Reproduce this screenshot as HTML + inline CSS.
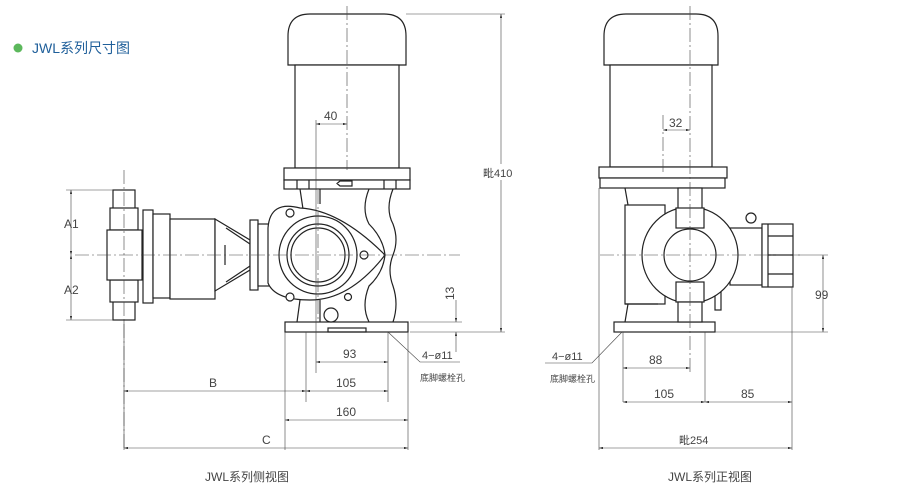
<!DOCTYPE html>
<html><head><meta charset="utf-8"><style>
body{margin:0;background:#fff;width:905px;height:495px;overflow:hidden}
svg{display:block}
text{font-family:"Liberation Sans","Noto Sans CJK SC",sans-serif;fill:#444}
.o{fill:none;stroke:#222;stroke-width:1.2}
.w{fill:#fff;stroke:#222;stroke-width:1.2}
.d{fill:none;stroke:#444;stroke-width:0.6}
.c{fill:none;stroke:#444;stroke-width:0.6;stroke-dasharray:14 3 2 3}
</style></head><body>
<svg width="905" height="495" viewBox="0 0 905 495" xmlns="http://www.w3.org/2000/svg">
<defs><marker id="a" viewBox="0 0 10 6" refX="10" refY="3" markerWidth="8" markerHeight="4" orient="auto-start-reverse"><path d="M0,0L10,3L0,6z" fill="#333"/></marker></defs>
<circle cx="18" cy="48" r="4.5" fill="#5cb85c"/>
<text x="32" y="53" font-size="14" style="fill:#1f5f9a">JWL系列尺寸图</text>

<!-- LEFT VIEW -->
<path class="w" d="M288,65 V36 Q288,14 310,14 H384 Q406,14 406,36 V65 Z"/>
<rect class="w" x="295" y="65" width="104" height="103"/>
<rect class="w" x="284" y="168" width="126" height="12"/>
<rect class="w" x="284" y="180" width="126" height="9"/>
<path class="o" d="M297,180v9M309,180v9M384,180v9M396,180v9M340,186h12v-5h-12l-3,2.5z"/>
<path class="o" d="M369,189 q-8,20 0,35 q14,14 16,31 q-2,18 -16,31 q-8,20 0,36 M393,189 q-8,20 0,35 q6,16 0,31 q-6,15 0,31 q6,18 0,36"/>
<path class="o" d="M300,189 l3,20 M320,189v15 M300,300l-3,22M320,300v22"/>
<rect class="w" x="285" y="322" width="123" height="10"/>
<rect class="o" x="328" y="328" width="38" height="4"/>
<!-- left valve -->
<rect class="w" x="113" y="190" width="22" height="130"/>
<rect class="w" x="110" y="208" width="28" height="22"/>
<rect class="w" x="110" y="280" width="28" height="22"/>
<rect class="w" x="107" y="230" width="35" height="50"/>
<rect class="w" x="143" y="210" width="10" height="93"/>
<rect class="w" x="153" y="214" width="17" height="84"/>
<rect class="w" x="170" y="219" width="45" height="80"/>
<path class="w" d="M215,219 L250,240 V270 L215,291 Z"/>
<path class="o" d="M226,228 L250,244 M226,282 L250,266 M225,245 V265"/>
<rect class="w" x="250" y="220" width="8" height="70"/>
<rect class="w" x="258" y="224" width="12" height="62"/>
<!-- pump head -->
<path class="w" d="M268,228 Q270,200 300,208 Q340,210 385,255 Q350,300 310,300 Q275,300 268,283 Z"/>
<circle class="w" cx="318" cy="255" r="39"/>
<circle class="w" cx="318" cy="255" r="31"/>
<circle class="w" cx="318" cy="255" r="27"/>
<circle class="w" cx="290" cy="213" r="4"/><circle class="w" cx="364" cy="255" r="4"/><circle class="w" cx="290" cy="297" r="4"/><circle class="w" cx="348" cy="297" r="3.5"/>
<circle class="w" cx="331" cy="315" r="7"/>
<!-- centerlines -->
<path class="c" d="M75,255H460 M124,170V450 M318,190V320 M347,6V170"/>
<!-- dims left -->
<path class="d" d="M66,190H113 M66,320H113 M124,320V450"/>
<path class="d" d="M71,190V255" marker-start="url(#a)" marker-end="url(#a)"/>
<path class="d" d="M71,255V320" marker-start="url(#a)" marker-end="url(#a)"/>
<text x="64" y="228" font-size="12">A1</text><text x="64" y="294" font-size="12">A2</text>
<path class="d" d="M316,120V373 M306,332V402 M388,332V402 M285,332V450 M408,332V450 M406,14H505 M410,332H505 M410,322H462"/>
<path class="d" d="M316,124H347" marker-start="url(#a)" marker-end="url(#a)"/>
<text x="324" y="120" font-size="12">40</text>
<path class="d" d="M501,14V332" marker-start="url(#a)" marker-end="url(#a)"/>
<rect x="480" y="164" width="38" height="16" fill="#fff"/>
<text x="483" y="177" font-size="11">毗410</text>
<path class="d" d="M456,300V322" marker-end="url(#a)"/><path class="d" d="M456,352V332" marker-end="url(#a)"/>
<text transform="translate(454,300) rotate(-90)" font-size="12">13</text>
<path class="d" d="M316,362H388" marker-start="url(#a)" marker-end="url(#a)"/><text x="343" y="358" font-size="12">93</text>
<path class="d" d="M124,391H306" marker-start="url(#a)" marker-end="url(#a)"/><text x="209" y="387" font-size="12">B</text>
<path class="d" d="M306,391H388" marker-start="url(#a)" marker-end="url(#a)"/><text x="336" y="387" font-size="12">105</text>
<path class="d" d="M285,420H408" marker-start="url(#a)" marker-end="url(#a)"/><text x="336" y="416" font-size="12">160</text>
<path class="d" d="M124,448H408" marker-start="url(#a)" marker-end="url(#a)"/><text x="262" y="444" font-size="12">C</text>
<path class="d" d="M388,332L420,362H460"/>
<text x="422" y="359" font-size="11">4−ø11</text>
<text x="420" y="381" font-size="9">底脚螺栓孔</text>
<text x="205" y="481" font-size="12">JWL系列侧视图</text>

<!-- RIGHT VIEW -->
<path class="w" d="M604,65 V36 Q604,14 626,14 H696 Q718,14 718,36 V65 Z"/>
<rect class="w" x="610" y="65" width="102" height="102"/>
<rect class="w" x="599" y="167" width="128" height="11"/>
<rect class="w" x="600" y="178" width="125" height="10"/>
<path class="o" d="M625,188 l3,17 M625,322 l3,-18"/>
<rect class="w" x="625" y="205" width="40" height="99"/>
<path class="o" d="M625,304h33"/>
<rect class="w" x="614" y="322" width="101" height="10"/>
<rect class="w" x="730" y="228" width="32" height="57"/>
<circle class="w" cx="751" cy="218" r="5"/>
<rect class="w" x="762" y="224" width="31" height="63"/>
<path class="o" d="M768,224v63M768,236h25M768,255h25M768,274h25"/>
<rect class="w" x="715" y="290" width="6" height="20"/>
<circle class="w" cx="690" cy="255" r="48"/>
<circle class="w" cx="690" cy="255" r="26"/>
<rect class="w" x="678" y="188" width="24" height="22"/>
<rect class="w" x="676" y="208" width="28" height="20"/>
<rect class="w" x="676" y="282" width="28" height="20"/>
<rect class="w" x="678" y="302" width="24" height="20"/>
<path class="c" d="M600,255H800 M690,6V372 M663,115V172"/>
<path class="d" d="M599,188V450 M623,332V402 M705,332V402 M792,287V450 M715,332H828 M795,255H828"/>
<path class="d" d="M663,130H690" marker-start="url(#a)" marker-end="url(#a)"/><text x="669" y="127" font-size="12">32</text>
<path class="d" d="M823,255V332" marker-start="url(#a)" marker-end="url(#a)"/><text x="815" y="299" font-size="12">99</text>
<path class="d" d="M623,368H690" marker-start="url(#a)" marker-end="url(#a)"/><text x="649" y="364" font-size="12">88</text>
<path class="d" d="M623,402H705" marker-start="url(#a)" marker-end="url(#a)"/><text x="654" y="398" font-size="12">105</text>
<path class="d" d="M705,402H792" marker-start="url(#a)" marker-end="url(#a)"/><text x="741" y="398" font-size="12">85</text>
<path class="d" d="M599,448H792" marker-start="url(#a)" marker-end="url(#a)"/><text x="679" y="444" font-size="11">毗254</text>
<path class="d" d="M622,332L592,363H545"/>
<text x="552" y="360" font-size="11">4−ø11</text>
<text x="550" y="382" font-size="9">底脚螺栓孔</text>
<text x="668" y="481" font-size="12">JWL系列正视图</text>
</svg>
</body></html>
